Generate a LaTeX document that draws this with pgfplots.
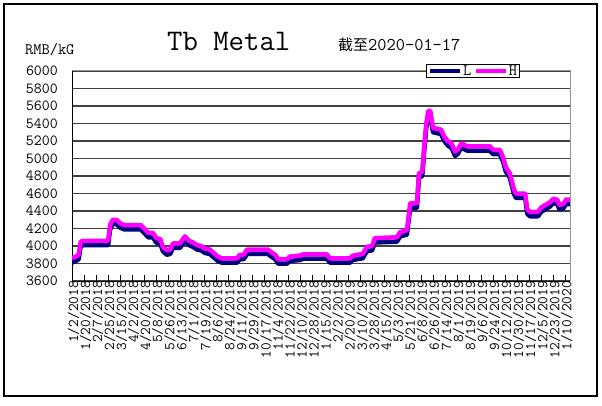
\documentclass[border=0pt]{standalone}
\usepackage{fontspec}
\usepackage{pgfplots}
\usepackage{pgfplotstable}
\pgfplotsset{compat=1.18}
\newfontfamily\cjk{Noto Sans CJK SC}
\definecolor{navyL}{RGB}{0,0,128}
\definecolor{magH}{RGB}{255,0,255}
\definecolor{gridc}{RGB}{64,64,64}
\definecolor{frameg}{RGB}{150,150,150}

\pgfplotstableread{
d H
0 3860
6 3880
10 3900
13 4050
18 4060
54 4060
57 4240
61 4300
67 4300
72 4260
78 4240
103 4240
108 4200
114 4150
121 4150
126 4090
132 4080
136 3990
142 3950
147 3960
151 4030
162 4030
165 4070
169 4110
175 4060
181 4040
187 4010
193 4000
199 3970
206 3960
212 3920
218 3880
224 3860
247 3860
251 3900
257 3900
262 3960
293 3960
298 3930
304 3900
308 3850
322 3850
326 3880
341 3890
346 3905
381 3905
386 3860
416 3860
420 3890
435 3910
441 3990
449 4000
453 4090
486 4100
491 4160
501 4180
506 4490
516 4490
519 4830
524 4850
527 5150
530 5400
533 5545
536 5545
540 5350
552 5330
557 5250
562 5200
568 5170
573 5080
577 5100
582 5170
586 5160
591 5140
625 5140
630 5100
640 5100
645 5010
649 4900
655 4830
661 4650
664 4600
678 4600
681 4420
685 4390
697 4390
702 4440
708 4470
715 4500
720 4540
726 4530
729 4470
735 4480
739 4530
745 4530
}\dataH

\pgfplotstableread{
d L
0 3810
6 3830
10 3850
13 4000
18 4010
54 4010
57 4190
61 4250
67 4250
72 4210
78 4190
103 4190
108 4150
114 4100
121 4100
126 4040
132 4030
136 3940
142 3900
147 3910
151 3980
162 3980
165 4020
169 4060
175 4010
181 3990
187 3960
193 3950
199 3920
206 3910
212 3870
218 3830
224 3810
247 3810
251 3850
257 3850
262 3910
293 3910
298 3880
304 3850
308 3800
322 3800
326 3830
341 3840
346 3855
381 3855
386 3810
416 3810
420 3840
435 3860
441 3940
449 3950
453 4040
486 4050
491 4110
501 4130
506 4440
516 4440
519 4780
524 4800
527 5100
530 5350
533 5495
536 5495
540 5300
552 5280
557 5200
562 5150
568 5120
573 5030
577 5050
582 5120
586 5110
591 5090
625 5090
630 5050
640 5050
645 4960
649 4850
655 4780
661 4600
664 4550
678 4550
681 4370
685 4340
697 4340
702 4390
708 4420
715 4450
720 4490
726 4480
729 4420
735 4430
739 4480
745 4480
}\dataL

\begin{document}
\begin{tikzpicture}[x=1bp,y=1bp]
\path[use as bounding box] (0,0) rectangle (602,405);
\draw[line width=1.5bp] (4,9) rectangle (597,401);
\node[anchor=base west,inner sep=0] at (25,351) {\ttfamily\fontsize{16}{16}\selectfont RMB/kG};
\node[anchor=base west,inner sep=0] at (167,355) {\ttfamily\fontsize{30}{30}\selectfont Tb Metal};
\node[anchor=base west,inner sep=0] at (338,355) {{\cjk\fontsize{15}{15}\selectfont 截至}{\ttfamily\fontsize{18}{18}\selectfont 2020-01-17}};
\begin{axis}[
  at={(72bp,124bp)}, anchor=south west,
  scale only axis, width=498bp, height=210bp,
  xmin=0, xmax=745, ymin=3600, ymax=6000,
  axis x line*=bottom, axis y line*=left,
  axis line style={black,line width=1bp},
  xtick={0,18,...,738},
  xticklabels={1/2/2018,1/20/2018,2/7/2018,2/25/2018,3/15/2018,4/2/2018,4/20/2018,5/8/2018,5/26/2018,6/13/2018,7/1/2018,7/19/2018,8/6/2018,8/24/2018,9/11/2018,9/29/2018,10/17/2018,11/4/2018,11/22/2018,12/10/2018,12/28/2018,1/15/2019,2/2/2019,2/20/2019,3/10/2019,3/28/2019,4/15/2019,5/3/2019,5/21/2019,6/8/2019,6/26/2019,7/14/2019,8/1/2019,8/19/2019,9/6/2019,9/24/2019,10/12/2019,10/30/2019,11/17/2019,12/5/2019,12/23/2019,1/10/2020},
  xticklabel style={rotate=90, anchor=base east, inner sep=0pt, yshift=-6bp, font=\ttfamily\fontsize{15}{15}\selectfont},
  tick align=inside, major tick length=6bp,
  x tick style={black,line width=0.8bp},
  ytick={3600,3800,...,6000},
  y tick style={draw=none},
  scaled y ticks=false,
  /pgf/number format/.cd, 1000 sep={}, assume math mode=true, /pgfplots/.cd,
  yticklabel style={anchor=east, inner sep=0pt, xshift=-14bp, font=\ttfamily\fontsize{15.5}{15.5}\selectfont},
  ymajorgrids, grid style={gridc,line width=1.2bp},
  legend columns=2,
  legend style={at={(0.805,1)}, anchor=center, draw=black, fill=white, line width=0.8bp,
    inner xsep=2bp, inner ysep=0bp, font=\ttfamily\fontsize{16}{16}\selectfont,
    nodes={inner sep=0.5bp},
    /tikz/every even column/.append style={column sep=2bp}},
  legend image code/.code={\draw[#1] (0bp,0bp) -- (30bp,0bp);},
  after end axis/.code={\draw[frameg,line width=1bp] (rel axis cs:0,1) -- (rel axis cs:1,1) -- (rel axis cs:1,0);},
]
\addplot[navyL, line width=4.5bp, line join=round] table[x=d,y=L] {\dataL};
\addlegendentry{\fontsize{16}{16}\selectfont L}
\addplot[magH, line width=4.5bp, line join=round] table[x=d,y=H] {\dataH};
\addlegendentry{\fontsize{16}{16}\selectfont H}
\end{axis}
\end{tikzpicture}
\end{document}
